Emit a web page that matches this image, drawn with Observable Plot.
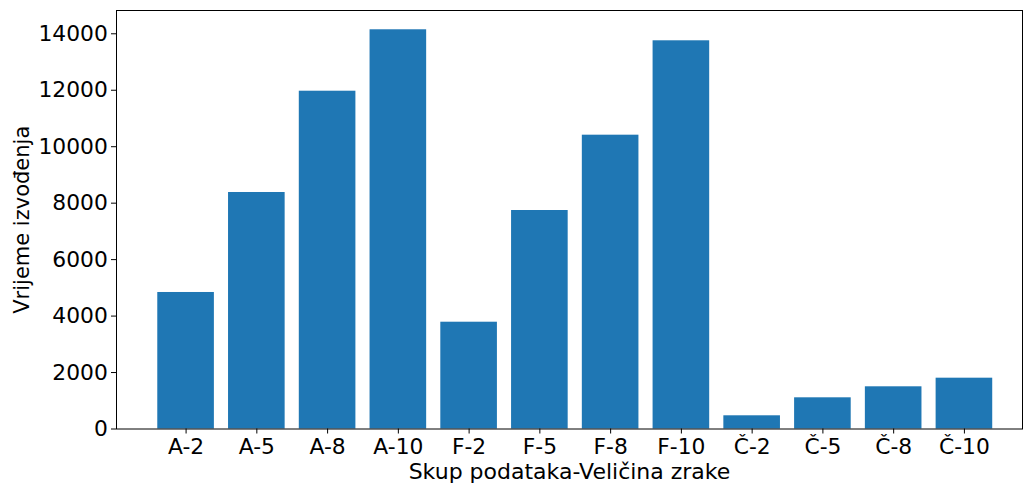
<!DOCTYPE html>
<html>
<head>
<meta charset="utf-8">
<script src="https://cdn.jsdelivr.net/npm/d3@7"></script>
<script src="https://cdn.jsdelivr.net/npm/@observablehq/plot@0.6"></script>
<style>
  html, body { margin: 0; padding: 0; background: #fff; }
  #chart svg { display: block; font-family: "DejaVu Sans", sans-serif; }
  #chart svg g[aria-label="y-axis tick label"] text,
  #chart svg g[aria-label="x-axis tick label"] text { font-size: 21.8px; fill: #000; }
</style>
</head>
<body>
<div id="chart"></div>
<script>
const categories = ["A-2", "A-5", "A-8", "A-10", "F-2", "F-5", "F-8", "F-10", "Č-2", "Č-5", "Č-8", "Č-10"];
const times = [4836, 8378, 11966, 14142, 3783, 7740, 10408, 13752, 468, 1105, 1495, 1800];
const yTicks = [0, 2000, 4000, 6000, 8000, 10000, 12000, 14000];
const xLabel = "Skup podataka-Veličina zrake";
const yLabel = "Vrijeme izvođenja";

const data = categories.map((c, i) => ({category: c, value: times[i]}));

const chart = Plot.plot({
  width: 1024,
  height: 487,
  marginLeft: 116,
  marginRight: 2,
  marginTop: 10,
  marginBottom: 58.5,
  style: {background: "#fff", overflow: "visible", color: "#000"},
  x: {domain: categories, range: [150.2, 999.3], paddingInner: 0.2, paddingOuter: 0.1, round: false},
  y: {domain: [0, 14825]},
  marks: [
    Plot.barY(data, {x: "category", y: "value", fill: "#1f77b4"}),
    Plot.frame({stroke: "#000", strokeWidth: 1}),
    Plot.axisY({ticks: yTicks, tickFormat: d3.format("d"), tickSize: 5, tickPadding: 3.7, label: null, stroke: "#000"}),
    Plot.axisX({tickSize: 5, tickPadding: 4.2, label: null, stroke: "#000"}),
    Plot.text([xLabel], {frameAnchor: "bottom", dy: 42.8, textAnchor: "middle", lineAnchor: "middle", fill: "#000", fontSize: 22}),
    Plot.text([yLabel], {frameAnchor: "left", dx: -94, rotate: -90, textAnchor: "middle", lineAnchor: "middle", fill: "#000", fontSize: 21})
  ]
});
document.getElementById("chart").appendChild(chart);
</script>
</body>
</html>
